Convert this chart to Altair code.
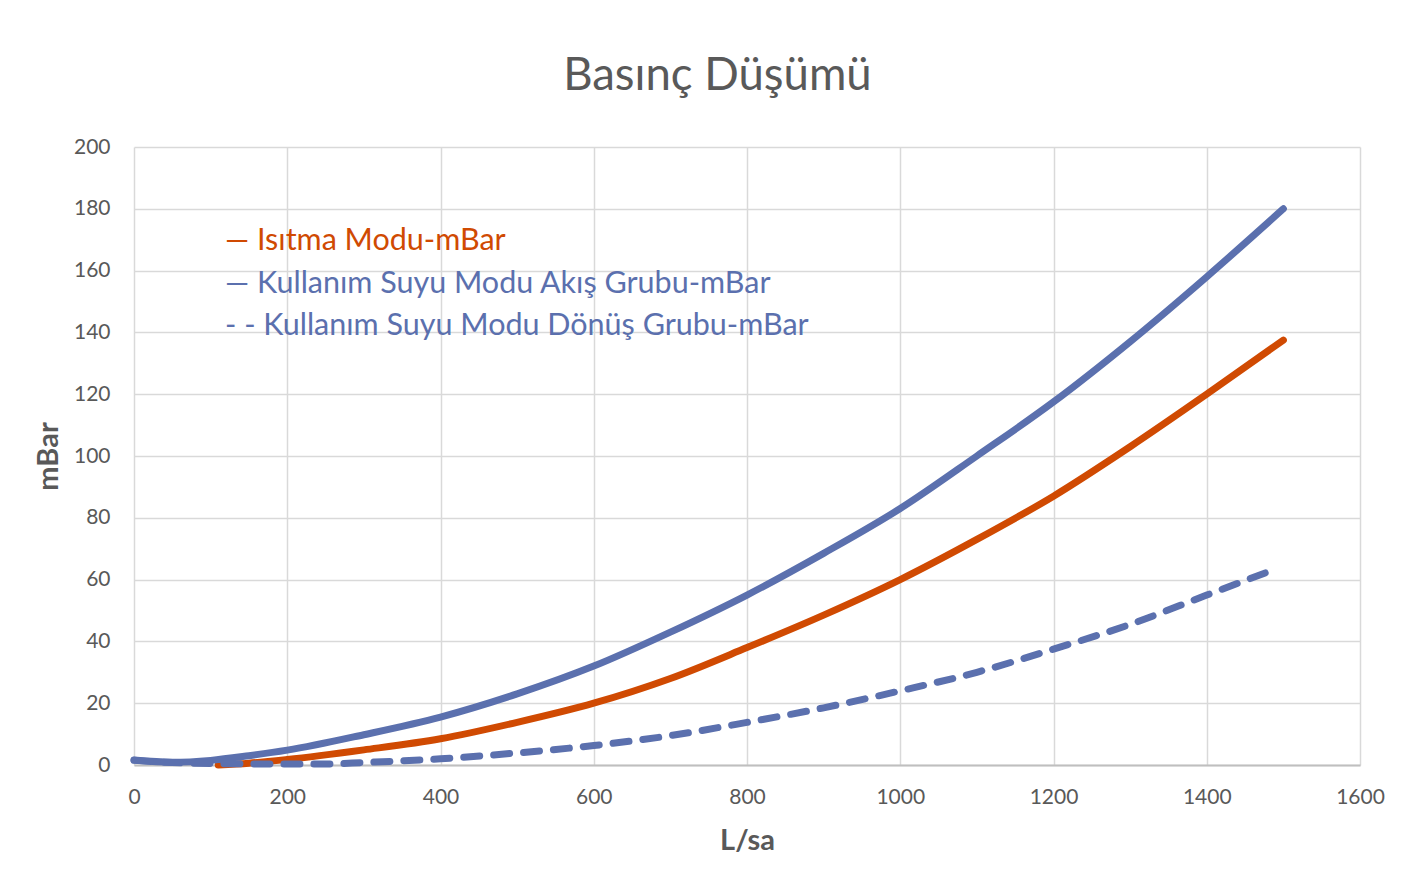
import altair as alt
import pandas as pd

# ---- data ----
x_akis = [0, 50, 100, 150, 200, 300, 400, 500, 600, 700, 800, 900, 1000, 1100, 1200, 1300, 1400, 1500]
y_akis = [1.6, 0.9, 1.5, 3.0, 4.8, 9.8, 15.5, 23.0, 32.0, 43.0, 55.0, 68.5, 83.0, 100.0, 117.5, 137.0, 158.0, 180.0]

x_isitma = [110, 150, 200, 300, 400, 500, 600, 700, 800, 900, 1000, 1100, 1200, 1300, 1400, 1500]
y_isitma = [0.0, 0.6, 1.8, 4.9, 8.5, 13.8, 20.0, 28.0, 38.0, 48.5, 60.0, 73.0, 87.0, 103.0, 120.0, 137.5]

x_donus = [0, 50, 100, 200, 250, 300, 400, 500, 600, 700, 800, 900, 1000, 1100, 1200, 1300, 1400, 1480]
y_donus = [1.5, 0.8, 0.5, 0.3, 0.3, 0.8, 2.0, 3.9, 6.3, 9.5, 13.8, 18.5, 24.0, 30.0, 37.5, 45.5, 55.0, 62.5]

legend_labels = [
    "— Isıtma Modu-mBar",
    "— Kullanım Suyu Modu Akış Grubu-mBar",
    "- - Kullanım Suyu Modu Dönüş Grubu-mBar",
]

RED = "#D04A02"
BLUE = "#5B70AE"
GREY = "#595959"
FONT = "Lato"

df_akis = pd.DataFrame({"x": x_akis, "y": y_akis})
df_isitma = pd.DataFrame({"x": x_isitma, "y": y_isitma})
df_donus = pd.DataFrame({"x": x_donus, "y": y_donus})

W, H = 1226, 618

xscale = alt.Scale(domain=[0, 1600], nice=False)
yscale = alt.Scale(domain=[0, 200], nice=False)

xaxis = alt.Axis(title="L/sa", values=list(range(0, 1601, 200)), ticks=False, format="d",
                 labelFlush=False, labelPadding=21, titlePadding=19, grid=True)
yaxis = alt.Axis(title="mBar", values=list(range(0, 201, 20)), ticks=False, format="d",
                 labelPadding=24, titlePadding=10, grid=True, domain=False)

base_x = alt.X("x:Q", scale=xscale, axis=xaxis)
base_y = alt.Y("y:Q", scale=yscale, axis=yaxis)

line_akis = alt.Chart(df_akis).mark_line(
    color=BLUE, strokeWidth=7, interpolate="monotone", strokeCap="round"
).encode(x=base_x, y=base_y)

line_isitma = alt.Chart(df_isitma).mark_line(
    color=RED, strokeWidth=7, interpolate="monotone", strokeCap="round"
).encode(x="x:Q", y="y:Q")

line_donus = alt.Chart(df_donus).mark_line(
    color=BLUE, strokeWidth=7, interpolate="monotone", strokeCap="round",
    strokeDash=[16, 14]
).encode(x="x:Q", y="y:Q")

leg_colors = [RED, BLUE, BLUE]
leg_y = [94, 137, 179]
legend_layers = []
for lab, col, yy in zip(legend_labels, leg_colors, leg_y):
    legend_layers.append(
        alt.Chart(pd.DataFrame({"t": [lab]})).mark_text(
            align="left", baseline="middle", font=FONT, fontSize=30.5, color=col
        ).encode(x=alt.value(91), y=alt.value(yy), text="t:N")
    )

chart = alt.layer(line_isitma, line_akis, line_donus, *legend_layers).properties(
    width=W, height=H,
    title=alt.TitleParams("Basınç Düşümü", font=FONT, fontSize=45.5, fontWeight="normal",
                          color=GREY, anchor="middle", frame="bounds", offset=37, dx=8),
    autosize=alt.AutoSizeParams(type="none"),
    padding={"left": 126, "top": 139, "right": 50, "bottom": 113},
).configure_view(stroke=None).configure_axis(
    labelFont=FONT, labelFontSize=21, labelColor=GREY,
    titleFont=FONT, titleFontSize=29, titleFontWeight="bold", titleColor=GREY,
    gridColor="#D9D9D9", gridWidth=1.5,
).configure_axisX(
    domainColor="#BFBFBF", domainWidth=2,
)

chart.save("out.html", embed_options={"renderer": "svg", "actions": False})
